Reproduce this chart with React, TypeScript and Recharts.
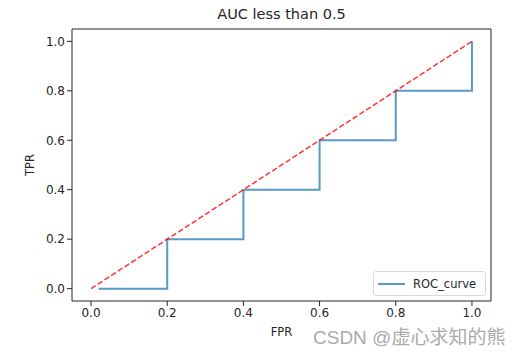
import React from 'react';
import { LineChart, Line, XAxis, YAxis } from 'recharts';

// ROC step curve
const fpr = [0.02, 0.2, 0.2, 0.4, 0.4, 0.6, 0.6, 0.8, 0.8, 1.0, 1.0];
const tpr = [0.0, 0.0, 0.2, 0.2, 0.4, 0.4, 0.6, 0.6, 0.8, 0.8, 1.0];

// random-guess diagonal
const diagX = [0, 1];
const diagY = [0, 1];

const ticks = [0, 0.2, 0.4, 0.6, 0.8, 1.0];

const FONT = '"DejaVu Sans", sans-serif';
const INK = '#262626';
const BLUE = '#1f77b4';

const rocData = fpr.map((x, i) => ({ x, y: tpr[i] }));
const diagData = diagX.map((x, i) => ({ x, y: diagY[i] }));

const tickStyle = { fontSize: 12, fill: INK, fontFamily: FONT };

const yLabel = (props: any) => {
  const vb = props.viewBox;
  const cx = 30;
  const cy = vb.y + vb.height / 2;
  return (
    <text
      x={cx}
      y={cy}
      transform={`rotate(-90 ${cx} ${cy})`}
      textAnchor="middle"
      dominantBaseline="central"
      fontSize={11.5}
      fontFamily={FONT}
      fill={INK}
    >
      TPR
    </text>
  );
};

export default function App() {
  return (
    <div style={{ position: 'absolute', left: 0, top: 0, width: 518, height: 357, background: '#fff' }}>
      <div
        style={{
          position: 'absolute',
          left: 72,
          width: 419,
          top: 6,
          textAlign: 'center',
          fontFamily: FONT,
          fontSize: 14.5,
          color: INK,
        }}
      >
        AUC less than 0.5
      </div>
      <LineChart width={518} height={357} margin={{ top: 28, right: 26, bottom: 31, left: 22 }}>
        <XAxis
          dataKey="x"
          type="number"
          domain={[-0.05, 1.05]}
          ticks={ticks}
          tickFormatter={(v: number) => v.toFixed(1)}
          tick={tickStyle}
          tickSize={5}
          height={25}
          stroke={INK}
          allowDataOverflow
          label={{ value: 'FPR', position: 'bottom', offset: 2, fontSize: 11.5, fill: INK, fontFamily: FONT }}
        />
        {/* top and right spines */}
        <XAxis
          xAxisId="top"
          dataKey="x"
          orientation="top"
          type="number"
          domain={[-0.05, 1.05]}
          allowDataOverflow
          tick={false}
          tickLine={false}
          height={1}
          stroke={INK}
        />
        <YAxis
          dataKey="y"
          type="number"
          domain={[-0.05, 1.05]}
          ticks={ticks}
          tickFormatter={(v: number) => v.toFixed(1)}
          tick={tickStyle}
          tickSize={5}
          width={50}
          stroke={INK}
          allowDataOverflow
          label={yLabel}
        />
        <YAxis
          yAxisId="right"
          dataKey="y"
          orientation="right"
          type="number"
          domain={[-0.05, 1.05]}
          allowDataOverflow
          tick={false}
          tickLine={false}
          width={1}
          stroke={INK}
        />
        <Line
          data={rocData}
          dataKey="y"
          name="ROC_curve"
          type="linear"
          stroke={BLUE}
          strokeOpacity={0.75}
          strokeWidth={2}
          dot={false}
          isAnimationActive={false}
        />
        <Line
          data={diagData}
          xAxisId="top"
          yAxisId="right"
          dataKey="y"
          type="linear"
          stroke="#ff0000"
          strokeOpacity={0.8}
          strokeWidth={1.5}
          strokeDasharray="5.5 2.5"
          dot={false}
          legendType="none"
          isAnimationActive={false}
        />
      </LineChart>
      {/* legend box, matplotlib "lower right" */}
      <div
        style={{
          position: 'absolute',
          left: 373,
          top: 271,
          boxSizing: 'border-box',
          width: 113,
          height: 25,
          border: '1px solid #d9d9d9',
          borderRadius: 3,
          background: 'rgba(255,255,255,0.8)',
          display: 'flex',
          alignItems: 'center',
          fontFamily: FONT,
          fontSize: 11.5,
          color: INK,
        }}
      >
        <svg width={36} height={10} style={{ marginLeft: 3 }}>
          <line x1={1} y1={5} x2={28} y2={5} stroke={BLUE} strokeOpacity={0.75} strokeWidth={2} />
        </svg>
        <span>ROC_curve</span>
      </div>
      <div
        style={{
          position: 'absolute',
          left: 313,
          top: 327,
          lineHeight: '21px',
          fontFamily: '"Liberation Sans", "Noto Sans CJK SC", sans-serif',
          fontSize: 19,
          color: '#aaaaaa',
          whiteSpace: 'nowrap',
        }}
      >
        CSDN @虚心求知的熊
      </div>
    </div>
  );
}
